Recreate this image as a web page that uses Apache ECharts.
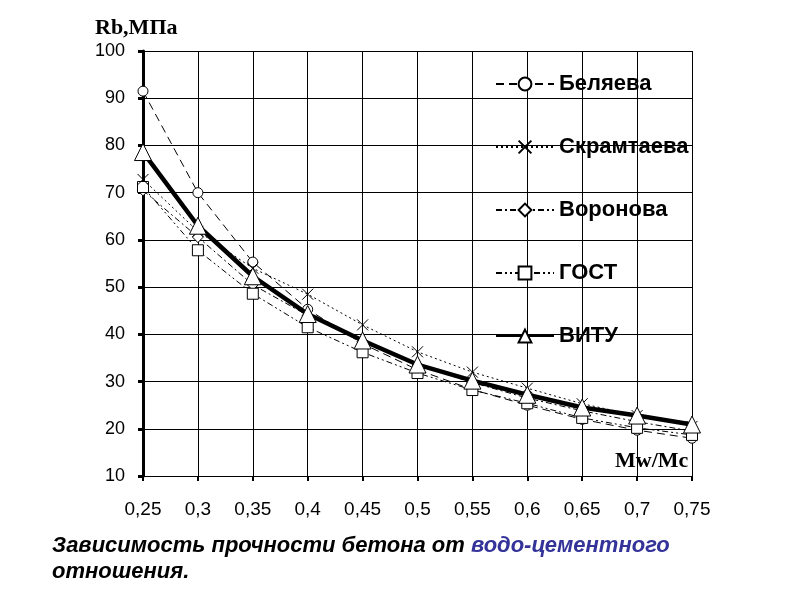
<!DOCTYPE html>
<html>
<head>
<meta charset="utf-8">
<script src="https://cdn.jsdelivr.net/npm/echarts@6/dist/echarts.min.js"></script>
<style>
html,body{margin:0;padding:0;background:#fff;}
#chart{width:800px;height:600px;}
</style>
</head>
<body>
<div id="chart"></div>
<script>
var categories = ['0,25','0,3','0,35','0,4','0,45','0,5','0,55','0,6','0,65','0,7','0,75'];
var belyaeva   = [91.5, 70.0, 55.3, 45.3, 38.0, 32.5, 28.3, 25.0, 22.0, 19.7, 18.0];
var skramtaeva = [72.8, 61.8, 54.0, 48.5, 42.0, 36.3, 32.0, 28.6, 25.3, 22.8, 20.5];
var voronova   = [70.5, 60.6, 50.5, 44.0, 38.5, 33.5, 29.8, 26.5, 23.8, 21.5, 19.5];
var gost       = [71.2, 57.8, 48.6, 41.5, 36.2, 31.8, 28.2, 25.4, 22.3, 20.2, 18.7];
var vitu       = [78.6, 63.0, 52.3, 44.3, 38.7, 33.6, 30.2, 27.2, 24.5, 22.8, 20.9];
var yTicks = {min: 10, max: 100, interval: 10};

var chart = echarts.init(document.getElementById('chart'));
var crossPath = 'path://M0,0L10,10M10,0L0,10';
var base = {
  type: 'line',
  showAllSymbol: true,
  itemStyle: {color: '#fff', borderColor: '#000', borderWidth: 1},
  emphasis: {disabled: true},
  animation: false
};
function mk(name, data, extra) {
  return Object.assign({}, base, {name: name, data: data}, extra);
}
chart.setOption({
  animation: false,
  backgroundColor: '#fff',
  grid: {left: 143, right: 108, top: 51, bottom: 124},
  xAxis: {
    type: 'category',
    data: categories,
    boundaryGap: false,
    axisLine: {lineStyle: {color: '#000', width: 1}},
    axisTick: {show: true, length: 5, lineStyle: {color: '#000', width: 2}, alignWithLabel: true},
    axisLabel: {color: '#000', fontFamily: 'Liberation Sans, Arial', fontSize: 19, margin: 24},
    splitLine: {show: true, lineStyle: {color: '#000', width: 1}}
  },
  yAxis: {
    type: 'value',
    min: yTicks.min, max: yTicks.max, interval: yTicks.interval,
    axisLine: {show: true, lineStyle: {color: '#000', width: 3}},
    axisTick: {show: true, length: 5, lineStyle: {color: '#000', width: 3}},
    axisLabel: {color: '#000', fontFamily: 'Liberation Sans, Arial', fontSize: 18, margin: 18},
    splitLine: {show: true, lineStyle: {color: '#000', width: 1}}
  },
  legend: {
    orient: 'vertical',
    left: 490, top: 68,
    itemWidth: 58, itemHeight: 16, itemGap: 41,
    textStyle: {color: '#000', fontFamily: 'Liberation Sans, Arial', fontSize: 22, fontWeight: 'bold'},
    data: ['Беляева','Скрамтаева','Воронова','ГОСТ','ВИТУ']
  },
  graphic: [
    {type: 'text', left: 95, top: 17, style: {text: 'Rb,МПа', font: 'bold 22px "Liberation Serif", "Times New Roman", serif', fill: '#000'}},
    {type: 'text', left: 615, top: 450, style: {text: 'Mw/Mc', font: 'bold 22px "Liberation Serif", "Times New Roman", serif', fill: '#000'}},
    {type: 'text', left: 52, top: 533, style: {
      text: '{a|Зависимость прочности бетона от }{b|водо-цементного}\n{a|отношения.}',
      lineHeight: 26,
      rich: {
        a: {font: 'italic bold 22px "Liberation Sans", Arial, sans-serif', fill: '#000', lineHeight: 26},
        b: {font: 'italic bold 22px "Liberation Sans", Arial, sans-serif', fill: '#333399', lineHeight: 26}
      }
    }}
  ],
  series: [
    mk('Беляева', belyaeva, {symbol: 'circle', symbolSize: 10, lineStyle: {color: '#000', width: 1, type: [8, 5]}, z: 2}),
    mk('Скрамтаева', skramtaeva, {symbol: crossPath, symbolSize: 11, lineStyle: {color: '#000', width: 1, type: [2, 3]}, z: 3}),
    mk('Воронова', voronova, {symbol: 'diamond', symbolSize: 11, lineStyle: {color: '#000', width: 1, type: [6, 3, 2, 3]}, z: 2}),
    mk('ГОСТ', gost, {symbol: 'rect', symbolSize: 11, lineStyle: {color: '#000', width: 1, type: [6, 3, 2, 3, 2, 3]}, z: 2}),
    mk('ВИТУ', vitu, {symbol: 'triangle', symbolSize: 17, lineStyle: {color: '#000', width: 4.5}, z: 4})
  ]
});
</script>
</body>
</html>
